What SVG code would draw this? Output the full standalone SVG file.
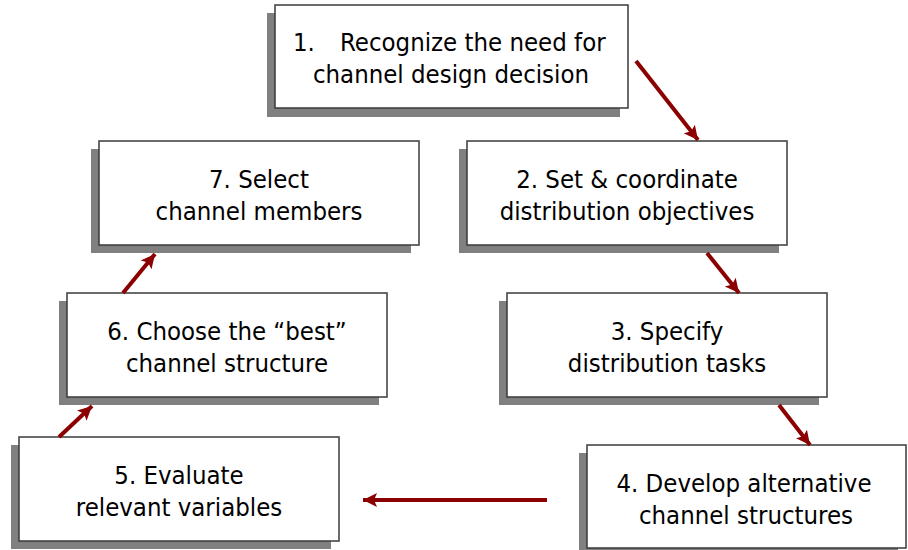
<svg xmlns="http://www.w3.org/2000/svg" width="908" height="550" viewBox="0 0 908 550">
<style>
.shadow{fill:#808080;}
.box{fill:#ffffff;stroke:#3a3a3a;stroke-width:1.5;}
.t{font-family:"DejaVu Sans Condensed","DejaVu Sans","Liberation Sans",sans-serif;font-size:25.5px;fill:#000;text-anchor:middle;}
.ts{font-family:"DejaVu Sans Condensed","DejaVu Sans","Liberation Sans",sans-serif;font-size:25.5px;fill:#000;}
.arrow{stroke:#8b0000;stroke-width:4;fill:none;marker-end:url(#ah);}
</style>
<defs>
<marker id="ah" markerUnits="userSpaceOnUse" markerWidth="16" markerHeight="16" viewBox="0 0 16 16" refX="14" refY="8" orient="auto">
<path d="M0,1 L14,8 L0,15 L3,8 Z" fill="#8b0000"/>
</marker>
</defs>
<g id="node1">
<rect class="shadow" x="267" y="13" width="353" height="104"/>
<rect class="box" x="275" y="5" width="353" height="103"/>
<text class="ts" x="293" y="51">1.</text>
<text class="ts" x="340" y="51">Recognize the need for</text>
<text class="t" x="451" y="83">channel design decision</text>
</g>
<g id="node2">
<rect class="shadow" x="459" y="149" width="320" height="104"/>
<rect class="box" x="467" y="141" width="320" height="104"/>
<text class="t" x="627" y="188">2. Set &amp; coordinate</text>
<text class="t" x="627" y="220">distribution objectives</text>
</g>
<g id="node3">
<rect class="shadow" x="499" y="301" width="320" height="104"/>
<rect class="box" x="507" y="293" width="320" height="104"/>
<text class="t" x="667" y="340">3. Specify</text>
<text class="t" x="667" y="372">distribution tasks</text>
</g>
<g id="node4">
<rect class="shadow" x="579" y="453" width="319" height="104"/>
<rect class="box" x="587" y="445" width="319" height="103"/>
<text class="t" x="744" y="492">4. Develop alternative</text>
<text class="t" x="746" y="524">channel structures</text>
</g>
<g id="node5">
<rect class="shadow" x="11" y="445" width="320" height="104"/>
<rect class="box" x="19" y="437" width="320" height="104"/>
<text class="t" x="179" y="484">5. Evaluate</text>
<text class="t" x="179" y="516">relevant variables</text>
</g>
<g id="node6">
<rect class="shadow" x="59" y="301" width="320" height="104"/>
<rect class="box" x="67" y="293" width="320" height="104"/>
<text class="t" x="227" y="340">6. Choose the “best”</text>
<text class="t" x="227" y="372">channel structure</text>
</g>
<g id="node7">
<rect class="shadow" x="91" y="149" width="320" height="104"/>
<rect class="box" x="99" y="141" width="320" height="104"/>
<text class="t" x="259" y="188">7. Select</text>
<text class="t" x="259" y="220">channel members</text>
</g>
<g id="connectors">
<line class="arrow" x1="636" y1="61" x2="698" y2="140"/>
<line class="arrow" x1="707" y1="253" x2="739" y2="293"/>
<line class="arrow" x1="779" y1="405" x2="810" y2="445"/>
<line class="arrow" x1="547" y1="500" x2="363" y2="500"/>
<line class="arrow" x1="59" y1="437" x2="92" y2="406"/>
<line class="arrow" x1="123" y1="293" x2="155" y2="254"/>
</g>
</svg>
